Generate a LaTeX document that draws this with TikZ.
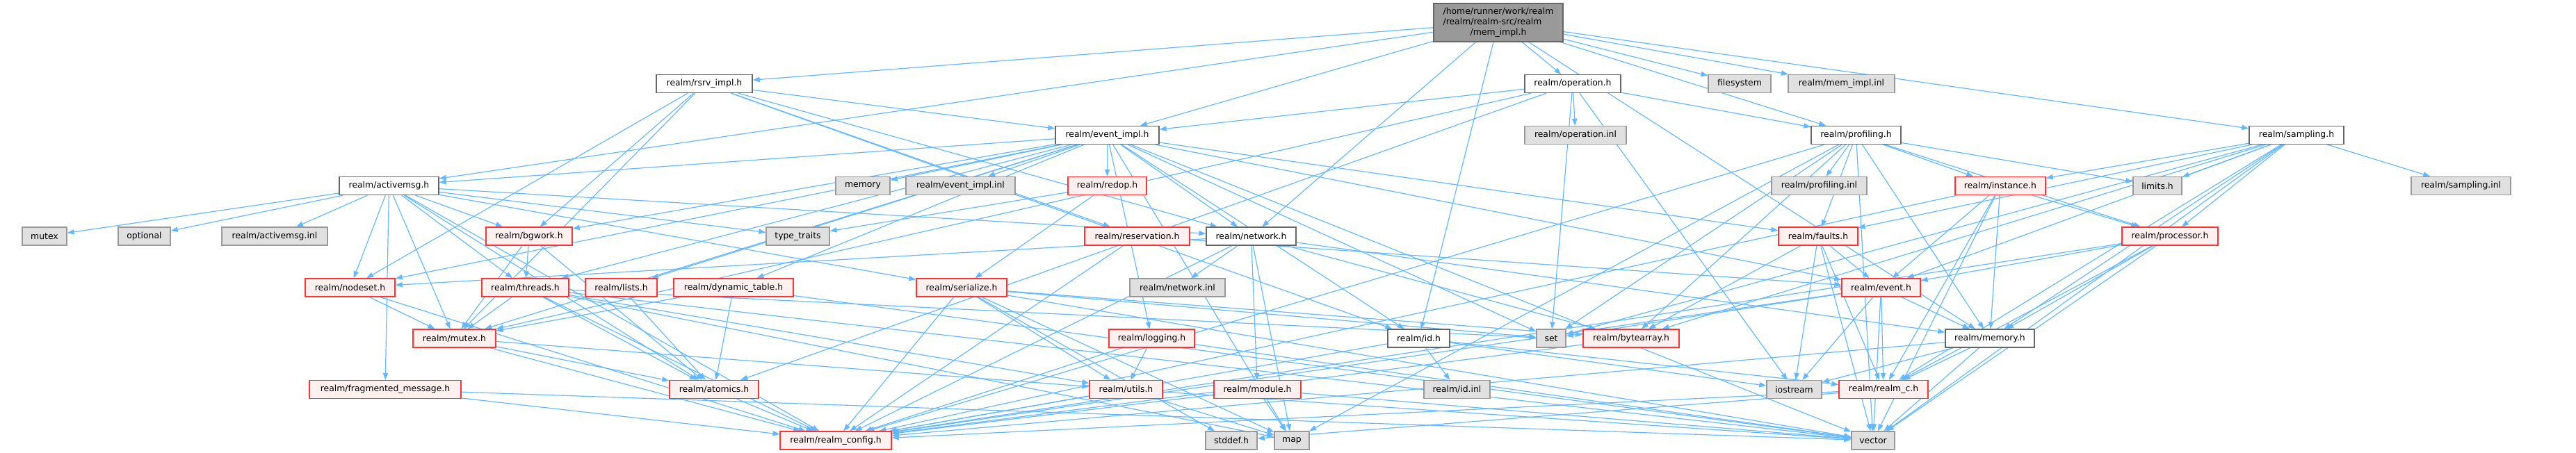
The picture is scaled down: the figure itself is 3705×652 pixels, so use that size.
\documentclass[tikz,border=0pt]{standalone}
\usepackage{fontspec}
\setmainfont{DejaVu Sans}
\usetikzlibrary{arrows.meta}
\pgfdeclarelayer{bg}
\pgfsetlayers{bg,main}
\definecolor{edgeblue}{HTML}{63B8FF}
\definecolor{redborder}{HTML}{FF3333}
\definecolor{redfill}{HTML}{FFF0F0}
\definecolor{grayfill}{HTML}{E0E0E0}
\definecolor{grayborder}{HTML}{999999}
\definecolor{darkborder}{HTML}{666666}
\definecolor{mainfill}{HTML}{999999}
\tikzset{
  box/.style={rectangle, inner sep=0pt, line width=1pt, font=\fontsize{9.3}{11.25}\selectfont},
  wn/.style={box, draw=darkborder, fill=white},
  rn/.style={box, draw=redborder, fill=redfill},
  gn/.style={box, draw=grayborder, fill=grayfill},
  mn/.style={box, draw=darkborder, fill=mainfill},
  edge/.style={draw=edgeblue, line width=0.9pt, -{Triangle[length=7.5pt,width=5.5pt]}}
}
\newcommand\N[7]{\node[#1,minimum width=#5*0.75pt,minimum height=#6*0.75pt] (#2) at (#3,#4) {#7};}
\begin{document}
\begin{tikzpicture}[x=0.75pt,y=-0.75pt]
\path[use as bounding box] (0,0) rectangle (3705,652);
% row 0
\N{mn}{M}{2155}{32.5}{186}{55}{\begin{tabular}{@{}l@{}}/home/runner/work/realm\\/realm/realm-src/realm\\\multicolumn{1}{@{}c@{}}{/mem\_impl.h}\end{tabular}}
% row A
\N{wn}{rsrv}{1013}{120.5}{138}{26}{realm/rsrv\_impl.h}
\N{wn}{op}{2262}{120.5}{138}{26}{realm/operation.h}
\N{gn}{fs}{2502}{120.5}{90}{26}{filesystem}
\N{gn}{meminl}{2648.5}{120.5}{153}{26}{realm/mem\_impl.inl}
% row B
\N{wn}{evimpl}{1592.5}{194.5}{149}{26}{realm/event\_impl.h}
\N{gn}{opinl}{2266}{194.5}{146}{26}{realm/operation.inl}
\N{wn}{prof}{2669.5}{194.5}{129}{26}{realm/profiling.h}
\N{wn}{samp}{3303}{194.5}{136}{26}{realm/sampling.h}
% row C
\N{wn}{am}{559.5}{267.5}{143}{26}{realm/activemsg.h}
\N{gn}{memory}{1241}{267.5}{78}{26}{memory}
\N{gn}{evinl}{1381.5}{267.5}{157}{26}{realm/event\_impl.inl}
\N{rn}{redop}{1592.5}{267.5}{113}{26}{realm/redop.h}
\N{gn}{profinl}{2616.5}{267.5}{137}{26}{realm/profiling.inl}
\N{rn}{inst}{2877}{267.5}{130}{26}{realm/instance.h}
\N{gn}{limits}{3103}{267.5}{70}{26}{limits.h}
\N{gn}{sampinl}{3539.5}{267.5}{143}{26}{realm/sampling.inl}
% row D
\N{gn}{stdmutex}{64}{340}{64}{26}{mutex}
\N{gn}{optional}{207.5}{340}{75}{26}{optional}
\N{gn}{aminl}{395}{340}{152}{26}{realm/activemsg.inl}
\N{rn}{bgwork}{761}{340}{124}{26}{realm/bgwork.h}
\N{gn}{tt}{1147.5}{340}{91}{26}{type\_traits}
\N{rn}{resv}{1635.5}{340}{151}{26}{realm/reservation.h}
\N{wn}{net}{1799.5}{340}{129}{26}{realm/network.h}
\N{rn}{faults}{2615}{340}{114}{26}{realm/faults.h}
\N{rn}{proc}{3121}{340}{138}{26}{realm/processor.h}
% row E
\N{rn}{nodeset}{503.5}{414}{129}{26}{realm/nodeset.h}
\N{rn}{threads}{755.5}{414}{125}{26}{realm/threads.h}
\N{rn}{lists}{893.5}{414}{103}{26}{realm/lists.h}
\N{rn}{dyn}{1055}{414}{172}{26}{realm/dynamic\_table.h}
\N{rn}{ser}{1383}{414}{130}{26}{realm/serialize.h}
\N{gn}{netinl}{1693.5}{414}{137}{26}{realm/network.inl}
\N{rn}{event}{2705.5}{414}{113}{26}{realm/event.h}
% row F
\N{rn}{mutexh}{653.5}{487}{119}{26}{realm/mutex.h}
\N{rn}{logging}{1656.5}{487}{123}{26}{realm/logging.h}
\N{wn}{id}{2040.5}{487}{89}{26}{realm/id.h}
\N{gn}{set}{2231}{487}{42}{26}{set}
\N{rn}{bytearr}{2346}{487}{138}{26}{realm/bytearray.h}
\N{wn}{memh}{2862}{487}{128}{26}{realm/memory.h}
% row G
\N{rn}{frag}{554}{560.5}{218}{26}{realm/fragmented\_message.h}
\N{rn}{atomics}{1027}{560.5}{128}{26}{realm/atomics.h}
\N{rn}{utils}{1619.5}{560.5}{105}{26}{realm/utils.h}
\N{rn}{module}{1808.5}{560.5}{125}{26}{realm/module.h}
\N{gn}{idinl}{2095.5}{560.5}{95}{26}{realm/id.inl}
\N{gn}{iostream}{2580.5}{560.5}{79}{26}{iostream}
\N{rn}{realmc}{2709}{560.5}{128}{26}{realm/realm\_c.h}
% row H
\N{rn}{config}{1202}{634}{160}{26}{realm/realm\_config.h}
\N{gn}{stddef}{1771}{634}{74}{26}{stddef.h}
\N{gn}{map}{1858}{634}{50}{26}{map}
\N{gn}{vector}{2694}{634}{62}{26}{vector}
\begin{pgfonlayer}{bg}
\foreach \s/\t in {
 M/am, M/rsrv, M/evimpl, M/op, M/fs, M/meminl, M/prof, M/samp, M/net, M/id, M/memh,
 rsrv/evimpl, rsrv/nodeset, rsrv/mutexh, rsrv/bgwork, rsrv/resv, rsrv/net, rsrv/id,
 am/stdmutex, am/optional, am/aminl, am/bgwork, am/nodeset, am/mutexh, am/threads, am/frag, am/config, am/atomics, am/tt, am/net, am/ser,
 evimpl/am, evimpl/memory, evimpl/evinl, evimpl/redop, evimpl/nodeset, evimpl/threads, evimpl/lists, evimpl/dyn, evimpl/bgwork, evimpl/net, evimpl/event, evimpl/id, evimpl/faults, evimpl/vector, evimpl/map, evimpl/set, evimpl/mutexh, evimpl/logging,
 op/evimpl, op/opinl, op/prof, op/set, op/iostream, op/atomics, op/mutexh,
 prof/profinl, prof/inst, prof/limits, prof/faults, prof/memh, prof/proc, prof/bytearr, prof/set, prof/vector, prof/map, prof/config,
 samp/sampinl, samp/limits, samp/inst, samp/proc, samp/faults, samp/event, samp/memh, samp/bytearr, samp/set, samp/realmc, samp/vector,
 inst/event, inst/memh, inst/proc, inst/realmc, inst/config, inst/vector,
 proc/event, proc/memh, proc/realmc, proc/vector, proc/config,
 faults/event, faults/bytearr, faults/iostream, faults/vector, faults/realmc,
 event/set, event/config, event/iostream, event/realmc, event/vector, event/memh,
 memh/realmc, memh/iostream, memh/vector, memh/config,
 realmc/config, realmc/stddef, bytearr/config,
 id/idinl, id/realmc, id/iostream, id/config,
 net/netinl, net/module, net/map, net/nodeset, net/config, net/memh, net/bytearr,
 resv/config, resv/event,
 logging/config, logging/utils, logging/vector,
 utils/config, utils/map, utils/vector,
 module/config, module/map, module/vector,
 atomics/config,
 ser/config, ser/stddef, ser/map, ser/utils, ser/bytearr, ser/vector, ser/set,
 redop/tt, redop/ser,
 dyn/mutexh, dyn/atomics, dyn/vector,
 lists/atomics,
 nodeset/mutexh, nodeset/config,
 mutexh/atomics, mutexh/utils, mutexh/config,
 threads/mutexh, threads/atomics, threads/config, threads/utils, threads/set, threads/map, threads/vector,
 bgwork/threads, bgwork/mutexh, bgwork/atomics,
 frag/config, frag/vector}
 \draw[edge] (\s) -- (\t);
\end{pgfonlayer}
\end{tikzpicture}
\end{document}
